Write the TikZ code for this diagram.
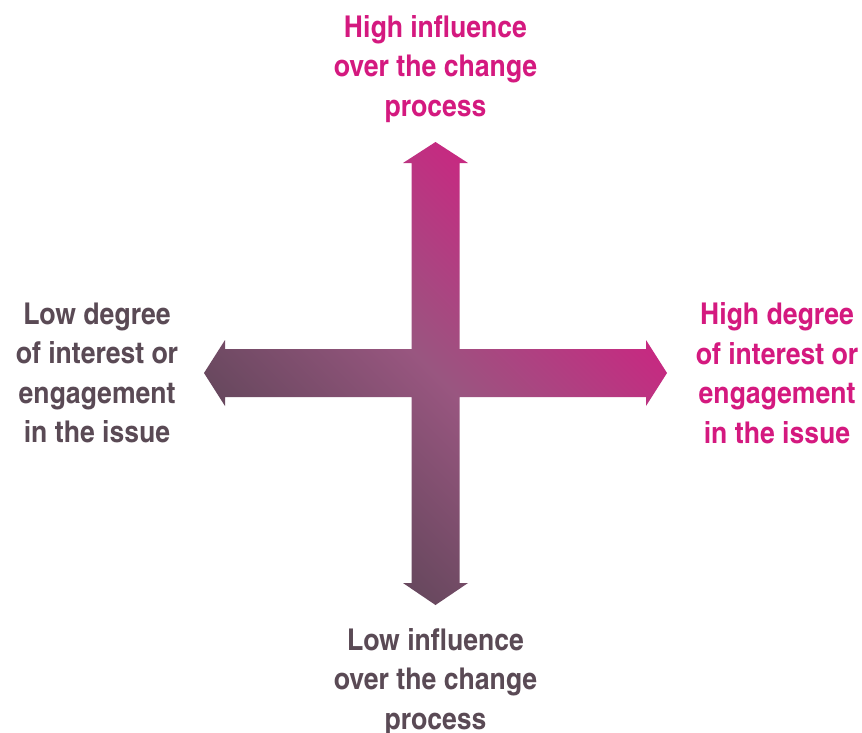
\documentclass[tikz,border=0pt]{standalone}
\usepackage{fontspec}
\setmainfont{texgyreheroscn}[Extension=.otf,UprightFont=*-bold,FakeStretch=1.08]
\definecolor{lowcol}{HTML}{564352}
\definecolor{midcol}{HTML}{995680}
\definecolor{highcol}{HTML}{D61A82}
\definecolor{lowtext}{HTML}{5A4A55}
\definecolor{hightext}{HTML}{D4197F}
\tikzset{
	axislabel/.style={align=center,inner sep=0pt,font=\fontsize{30}{39.5}\selectfont},
	lowlabel/.style={axislabel,text=lowtext},
	highlabel/.style={axislabel,text=hightext}
}
\begin{document}
\begin{tikzpicture}[x=1pt,y=-1pt,line join=miter]
	\useasboundingbox (0,0) rectangle (862,732);
	\path
	(435.5,373) coordinate (O)
	(435.5,142) coordinate (T)
	(435.5,605) coordinate (B)
	(204,373) coordinate (L)
	(667,373) coordinate (R)
	;
	% the cross, shaded from low (bottom left) to high (top right)
	\shade[bottom color=lowcol,top color=highcol,middle color=midcol,shading angle=-45]
	(T)--(468,163)--(459.5,163)--(459.5,349)--(646,349)--(646,340)--(R)--(646,406)--(646,397)
	--(459.5,397)--(459.5,583)--(468,583)--(B)--(403,583)--(411.5,583)--(411.5,397)
	--(225,397)--(225,406)--(L)--(225,340)--(225,349)--(411.5,349)--(411.5,163)--(403,163)--cycle;
	\path (435.5,69) node[highlabel] (hiinf) {High influence\\over the change\\process};
	\path (435.5,682) node[lowlabel] (loinf) {Low influence\\over the change\\process};
	\path (97,373) node[lowlabel] (lodeg) {Low degree\\of interest or\\engagement\\in the issue};
	\path (777,373) node[highlabel] (hideg) {High degree\\of interest or\\engagement\\in the issue};
\end{tikzpicture}
\end{document}
